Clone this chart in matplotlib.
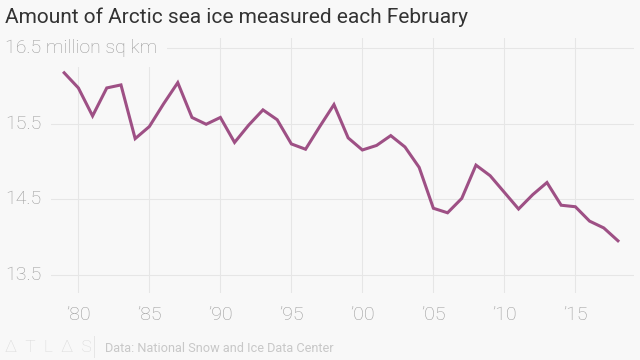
import matplotlib.pyplot as plt
from matplotlib.transforms import blended_transform_factory

years = list(range(1979, 2019))
extent = [16.17, 15.97, 15.60, 15.97, 16.01, 15.30, 15.46, 15.76, 16.04, 15.58,
          15.49, 15.58, 15.25, 15.48, 15.68, 15.55, 15.23, 15.16, 15.46, 15.75,
          15.31, 15.15, 15.21, 15.34, 15.19, 14.92, 14.38, 14.32, 14.51, 14.95,
          14.81, 14.59, 14.37, 14.56, 14.72, 14.42, 14.40, 14.21, 14.12, 13.95]

x_ticks = [1980, 1985, 1990, 1995, 2000, 2005, 2010, 2015]
x_labels = ["\u201980", "\u201985", "\u201990", "\u201995", "\u201900", "\u201905", "\u201910", "\u201915"]
y_ticks = [13.5, 14.5, 15.5, 16.5]
y_labels = ["13.5", "14.5", "15.5", "16.5 million sq km"]

bg = "#f8f8f8"
line_color = "#9e5085"
grid_color = "#e6e6e6"
tick_color = "#999999"

plt.rcParams['font.family'] = ['Roboto', 'DejaVu Sans']

fig = plt.figure(figsize=(6.4, 3.6), dpi=100, facecolor=bg)
ax = fig.add_axes([45 / 640, 1 - 293 / 360, 589 / 640, 255 / 360], facecolor=bg)

ax.plot(years, extent, color=line_color, lw=2.2, solid_joinstyle='miter', zorder=3)

ax.set_xlim(1977.65, 2019.13)
ax.set_ylim(13.26, 16.63)

ax.set_xticks(x_ticks)
ax.set_xticklabels(x_labels, fontsize=14, color=tick_color, fontweight='light')
ax.tick_params(axis='x', length=0, pad=9)
ax.set_yticks(y_ticks)
ax.set_yticklabels([])
ax.tick_params(axis='y', length=0)
ax.grid(True, color=grid_color, lw=0.8)
for s in ax.spines.values():
    s.set_visible(False)

trans = blended_transform_factory(fig.transFigure, ax.transData)
for v, lab in zip(y_ticks, y_labels):
    ax.text(5 / 640, v, lab, transform=trans, ha='left', va='center',
            fontsize=14, color=tick_color, fontweight='light',
            bbox=dict(facecolor=bg, edgecolor='none', pad=7), zorder=4)

fig.text(5 / 640, 1 - 17 / 360, "Amount of Arctic sea ice measured each February",
         ha='left', va='center', fontsize=15, color="#333333")

fig.text(5 / 640, 1 - 348 / 360, "\u0394  T  L  \u0394  S", ha='left', va='center',
         fontsize=12.5, color="#d9d9d9", fontweight='light')
fig.text(92 / 640, 1 - 348 / 360, "|", ha='left', va='center',
         fontsize=18, color="#dddddd", fontweight='light')
fig.text(105 / 640, 1 - 348 / 360, "Data: National Snow and Ice Data Center",
         ha='left', va='center', fontsize=9.2, color="#c8c8c8")

fig.savefig("out.png", dpi=100, facecolor=bg)
